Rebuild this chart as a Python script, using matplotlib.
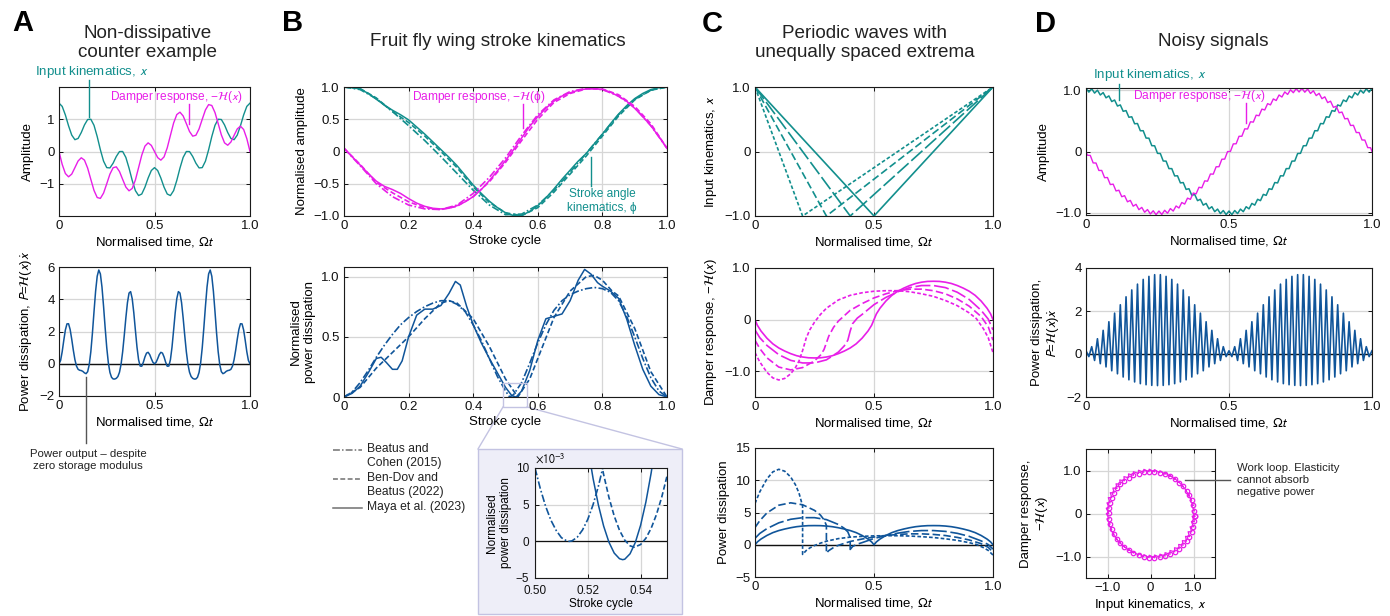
import numpy as np
import matplotlib
matplotlib.use("Agg")
import matplotlib.pyplot as plt
from matplotlib.lines import Line2D
from matplotlib.patches import Rectangle

plt.rcParams['font.family'] = ['Liberation Sans', 'DejaVu Sans']
plt.rcParams['mathtext.fontset'] = 'stixsans'

TEAL = '#128f8d'
MAG = '#e81ee8'
BLUE = '#10559a'
TXT = '#222222'
GRIDC = '#d6d6d6'

# ---------------- Panel A data ----------------
a_t = np.linspace(0, 1, 61)
a_input = [1.5, 1.399, 1.133, 0.797, 0.509, 0.366, 0.405, 0.589, 0.824, 0.992,
           1.0, 0.811, 0.464, 0.053, -0.300, -0.5, -0.509, -0.362, -0.155, -0.002,
           0.0, -0.183, -0.515, -0.898, -1.214, -1.366, -1.318, -1.106, -0.824, -0.590,
           -0.5,
           -0.590, -0.824, -1.106, -1.318, -1.366, -1.214, -0.898, -0.515, -0.183, 0.0,
           -0.002, -0.155, -0.362, -0.509, -0.5, -0.300, 0.053, 0.464, 0.811, 1.0,
           0.992, 0.824, 0.589, 0.405, 0.366, 0.509, 0.797, 1.133, 1.399, 1.5]
a_damper = [0, -0.399, -0.683, -0.785, -0.701, -0.5, -0.294, -0.194, -0.268, -0.515,
            -0.866, -1.208, -1.427, -1.454, -1.289, -1.0, -0.701, -0.503, -0.476, -0.620,
            -0.866, -1.103, -1.219, -1.145, -0.882, -0.5, -0.113, 0.167, 0.268, 0.190,
            0,
            -0.190, -0.268, -0.167, 0.113, 0.5, 0.882, 1.145, 1.219, 1.103, 0.866,
            0.620, 0.476, 0.503, 0.701, 1.0, 1.289, 1.454, 1.427, 1.208, 0.866,
            0.515, 0.268, 0.194, 0.294, 0.5, 0.701, 0.785, 0.683, 0.399, 0]
a_pt = np.linspace(0, 1, 121)
a_power = [0, 0.203, 0.745, 1.449, 2.093, 2.473, 2.481, 2.124, 1.521, 0.841,
           0.25, -0.149, -0.346, -0.404, -0.423, -0.475, -0.565, -0.615, -0.492, -0.060,
           0.750, 1.901, 3.235, 4.500, 5.428, 5.814, 5.570, 4.757, 3.556, 2.223,
           1.0, 0.061, -0.539, -0.840, -0.943, -0.948, -0.905, -0.791, -0.527, -0.027,
           0.750, 1.755, 2.838, 3.787, 4.383, 4.474, 4.033, 3.160, 2.074, 1.030,
           0.25, -0.142, -0.153, 0.097, 0.425, 0.661, 0.709, 0.565, 0.314, 0.090,
           0,
           0.090, 0.314, 0.565, 0.709, 0.661, 0.425, 0.097, -0.153, -0.142, 0.25,
           1.030, 2.074, 3.160, 4.033, 4.474, 4.383, 3.787, 2.838, 1.755, 0.750,
           -0.027, -0.527, -0.791, -0.905, -0.948, -0.943, -0.840, -0.539, 0.061, 1.0,
           2.223, 3.556, 4.757, 5.570, 5.814, 5.428, 4.500, 3.235, 1.901, 0.750,
           -0.060, -0.492, -0.615, -0.565, -0.475, -0.423, -0.404, -0.346, -0.149, 0.25,
           0.841, 1.521, 2.124, 2.481, 2.473, 2.093, 1.449, 0.745, 0.203, 0]

# ---------------- Panel B data ----------------
b_t41 = np.linspace(0, 1, 41)
b_t21 = np.linspace(0, 1, 21)
b_stroke_maya = [1.0, 0.993, 0.97, 0.90, 0.81, 0.72, 0.64, 0.57, 0.49, 0.38,
                 0.27, 0.15, 0.03, -0.09, -0.22, -0.37, -0.52, -0.65, -0.77, -0.87,
                 -0.95, -0.995, -0.99, -0.93, -0.84, -0.72, -0.58, -0.43, -0.29, -0.15,
                 -0.03, 0.12, 0.27, 0.43, 0.58, 0.71, 0.82, 0.90, 0.96, 0.99, 1.0]
b_stroke_bendov = [1.0, 0.975, 0.83, 0.62, 0.45, 0.24, 0.0, -0.25, -0.55, -0.79,
                   -0.95, -0.995, -0.87, -0.63, -0.35, -0.07, 0.24, 0.55, 0.80, 0.95, 1.0]
b_stroke_beatus = [1.0, 0.96, 0.82, 0.62, 0.40, 0.17, -0.08, -0.34, -0.60, -0.83,
                   -0.98, -0.97, -0.83, -0.60, -0.32, -0.03, 0.27, 0.57, 0.81, 0.95, 1.0]
b_damp_maya = [0.05, -0.08, -0.21, -0.34, -0.46, -0.54, -0.59, -0.65, -0.73, -0.80,
               -0.85, -0.88, -0.89, -0.88, -0.84, -0.78, -0.70, -0.59, -0.45, -0.30,
               -0.14, 0.03, 0.21, 0.39, 0.54, 0.67, 0.78, 0.86, 0.91, 0.95,
               0.97, 0.975, 0.96, 0.92, 0.855, 0.78, 0.67, 0.54, 0.40, 0.23, 0.05]
b_damp_bendov = [0.05, -0.2, -0.48, -0.64, -0.78, -0.87, -0.9, -0.85, -0.7, -0.47,
                 -0.17, 0.17, 0.5, 0.76, 0.9, 0.97, 0.97, 0.88, 0.7, 0.43, 0.05]
b_damp_beatus = [0.05, -0.22, -0.5, -0.7, -0.83, -0.89, -0.9, -0.83, -0.65, -0.4,
                 -0.1, 0.25, 0.57, 0.8, 0.93, 0.98, 0.96, 0.86, 0.68, 0.4, 0.05]

bp_maya_t = [0, 0.025, 0.05, 0.075, 0.1, 0.115, 0.13, 0.15, 0.165, 0.18,
             0.2, 0.225, 0.25, 0.275, 0.3, 0.325, 0.345, 0.36, 0.38, 0.4,
             0.425, 0.45, 0.475, 0.5, 0.52, 0.533, 0.55, 0.575, 0.6, 0.625,
             0.65, 0.675, 0.7, 0.725, 0.745, 0.765, 0.785, 0.8, 0.825, 0.85,
             0.875, 0.9, 0.925, 0.95, 0.975, 1.0]
bp_maya = [0, 0.03, 0.09, 0.2, 0.32, 0.33, 0.29, 0.23, 0.23, 0.3,
           0.5, 0.68, 0.73, 0.73, 0.76, 0.86, 0.96, 0.93, 0.75, 0.6,
           0.45, 0.32, 0.2, 0.08, 0.01, 0.0, 0.05, 0.22, 0.47, 0.65,
           0.67, 0.69, 0.8, 0.97, 1.06, 1.02, 0.95, 0.92, 0.88, 0.82,
           0.65, 0.43, 0.23, 0.09, 0.02, 0]
bp_beatus_t = [0, 0.025, 0.05, 0.075, 0.1, 0.125, 0.15, 0.175, 0.2, 0.225,
               0.25, 0.275, 0.3, 0.325, 0.35, 0.375, 0.4, 0.425, 0.45, 0.475,
               0.5, 0.513, 0.525, 0.55, 0.575, 0.6, 0.625, 0.65, 0.675, 0.7,
               0.725, 0.75, 0.775, 0.8, 0.825, 0.85, 0.875, 0.9, 0.925, 0.95,
               0.975, 1.0]
bp_beatus = [0, 0.04, 0.12, 0.22, 0.33, 0.43, 0.52, 0.6, 0.66, 0.71,
             0.75, 0.78, 0.8, 0.8, 0.77, 0.71, 0.6, 0.47, 0.32, 0.17,
             0.05, 0.0, 0.02, 0.12, 0.28, 0.45, 0.6, 0.72, 0.8, 0.85,
             0.88, 0.9, 0.91, 0.9, 0.87, 0.8, 0.67, 0.5, 0.32, 0.16,
             0.05, 0]
bp_bendov_t = [0, 0.05, 0.1, 0.15, 0.2, 0.25, 0.3, 0.325, 0.35, 0.4,
               0.45, 0.5, 0.538, 0.575, 0.6, 0.65, 0.7, 0.75, 0.775, 0.8,
               0.83, 0.85, 0.9, 0.95, 1.0]
bp_bendov = [0, 0.08, 0.24, 0.37, 0.5, 0.65, 0.78, 0.8, 0.78, 0.65,
             0.42, 0.15, 0.0, 0.15, 0.32, 0.66, 0.88, 1.0, 1.01, 0.97,
             0.88, 0.84, 0.57, 0.21, 0]

# inset values in units of 1e-3
ins_beatus_t = [0.500, 0.502, 0.504, 0.506, 0.508, 0.510, 0.512, 0.513, 0.514, 0.516,
                0.518, 0.520, 0.522, 0.524, 0.526, 0.528]
ins_beatus_e3 = [10.0, 7.2, 4.8, 2.9, 1.5, 0.5, 0.06, 0.0, 0.06, 0.56,
                 1.55, 3.0, 5.0, 7.5, 10.5, 13.9]
ins_bendov_t = [0.524, 0.526, 0.528, 0.530, 0.532, 0.534, 0.536, 0.5376, 0.540, 0.542,
                0.544, 0.546, 0.548, 0.550]
ins_bendov_e3 = [12.8, 9.1, 6.0, 3.46, 1.51, 0.16, -0.61, -0.8, -0.44, 0.42,
                 1.78, 3.65, 6.02, 8.9]
ins_maya_t = [0.520, 0.522, 0.524, 0.526, 0.528, 0.530, 0.532, 0.5332, 0.534, 0.536,
              0.538, 0.540, 0.542, 0.544, 0.546]
ins_maya_e3 = [12.9, 8.57, 4.97, 2.08, -0.11, -1.6, -2.37, -2.5, -2.44, -1.7,
               -0.16, 2.19, 5.36, 9.33, 14.1]

# ---------------- Panel C data ----------------
c_tri_t = [[0, 0.2, 1], [0, 0.3, 1], [0, 0.4, 1], [0, 0.5, 1]]
c_tri_x = [[1, -1, 1], [1, -1, 1], [1, -1, 1], [1, -1, 1]]

f02_t = [0, 0.02, 0.05, 0.075, 0.1, 0.125, 0.15, 0.17, 0.185, 0.2, 0.215, 0.23, 0.25,
         0.275, 0.3, 0.35, 0.4, 0.45, 0.5, 0.55, 0.6, 0.65, 0.7, 0.75, 0.8, 0.85, 0.9,
         0.93, 0.96, 0.98, 1.0]
f02 = [-0.64, -0.82, -1.02, -1.13, -1.17, -1.14, -1.05, -0.93, -0.80, -0.60, -0.36, -0.20,
       -0.05, 0.10, 0.22, 0.38, 0.47, 0.52, 0.55, 0.56, 0.56, 0.54, 0.50, 0.45, 0.37, 0.27,
       0.13, 0.02, -0.18, -0.35, -0.64]
f03_t = [0, 0.02, 0.05, 0.1, 0.15, 0.2, 0.25, 0.275, 0.29, 0.3, 0.31, 0.33, 0.35, 0.4,
         0.45, 0.5, 0.55, 0.6, 0.65, 0.7, 0.75, 0.8, 0.85, 0.9, 0.95, 0.98, 1.0]
f03 = [-0.40, -0.56, -0.74, -0.92, -0.975, -0.93, -0.80, -0.69, -0.58, -0.45, -0.32,
       -0.15, -0.03, 0.18, 0.31, 0.42, 0.50, 0.56, 0.59, 0.59, 0.56, 0.50, 0.40, 0.26,
       0.06, -0.14, -0.40]
f04_t = [0, 0.02, 0.05, 0.1, 0.15, 0.2, 0.25, 0.3, 0.35, 0.375, 0.39, 0.4, 0.41, 0.43,
         0.45, 0.5, 0.55, 0.6, 0.65, 0.7, 0.75, 0.8, 0.85, 0.9, 0.95, 0.98, 1.0]
f04 = [-0.20, -0.35, -0.50, -0.68, -0.79, -0.84, -0.84, -0.78, -0.63, -0.51, -0.40,
       -0.22, -0.08, 0.03, 0.10, 0.29, 0.43, 0.54, 0.62, 0.66, 0.66, 0.62, 0.53, 0.39,
       0.18, 0.01, -0.20]
f05_t = [0, 0.01, 0.025, 0.05, 0.075, 0.1, 0.125, 0.15, 0.175, 0.2, 0.225, 0.25,
         0.275, 0.3, 0.325, 0.35, 0.375, 0.4, 0.425, 0.45, 0.475, 0.49, 0.5,
         0.51, 0.525, 0.55, 0.575, 0.6, 0.625, 0.65, 0.675, 0.7, 0.725, 0.75,
         0.775, 0.8, 0.825, 0.85, 0.875, 0.9, 0.925, 0.95, 0.975, 0.99, 1.0]
f05 = [0, -0.11, -0.22, -0.36, -0.47, -0.55, -0.61, -0.66, -0.70, -0.725, -0.74, -0.743,
       -0.74, -0.725, -0.70, -0.66, -0.61, -0.55, -0.47, -0.36, -0.22, -0.11, 0,
       0.11, 0.22, 0.36, 0.47, 0.55, 0.61, 0.66, 0.70, 0.725, 0.74, 0.743,
       0.74, 0.725, 0.70, 0.66, 0.61, 0.55, 0.47, 0.36, 0.22, 0.11, 0]

p02_t = [0, 0.02, 0.05, 0.075, 0.1, 0.125, 0.15, 0.17, 0.185, 0.2, 0.2, 0.215, 0.23,
         0.25, 0.275, 0.3, 0.35, 0.4, 0.45, 0.5, 0.55, 0.6, 0.65, 0.7, 0.75, 0.8, 0.85,
         0.9, 0.93, 0.96, 0.98, 1.0]
p02 = [6.4, 8.2, 10.2, 11.3, 11.7, 11.4, 10.5, 9.3, 8.0, 6.0, -1.5, -0.9, -0.5,
       -0.12, 0.25, 0.55, 0.95, 1.18, 1.3, 1.38, 1.4, 1.4, 1.35, 1.25, 1.12, 0.92, 0.68,
       0.32, 0.05, -0.45, -0.88, -1.6]
p03_t = [0, 0.02, 0.05, 0.1, 0.15, 0.2, 0.25, 0.275, 0.29, 0.3, 0.3, 0.31, 0.33, 0.35,
         0.4, 0.45, 0.5, 0.55, 0.6, 0.65, 0.7, 0.75, 0.8, 0.85, 0.9, 0.95, 0.98, 1.0]
p03 = [2.67, 3.73, 4.93, 6.13, 6.5, 6.2, 5.33, 4.6, 3.87, 3.0, -1.29, -0.91, -0.43,
       -0.09, 0.51, 0.89, 1.2, 1.43, 1.6, 1.69, 1.69, 1.6, 1.43, 1.14, 0.74, 0.17,
       -0.4, -1.14]
p04_t = [0, 0.02, 0.05, 0.1, 0.15, 0.2, 0.25, 0.3, 0.35, 0.375, 0.39, 0.4, 0.4, 0.41,
         0.43, 0.45, 0.5, 0.55, 0.6, 0.65, 0.7, 0.75, 0.8, 0.85, 0.9, 0.95, 0.98, 1.0]
p04 = [1.0, 1.75, 2.5, 3.4, 3.95, 4.2, 4.2, 3.9, 3.15, 2.55, 2.0, 1.1, -0.73, -0.27,
       0.1, 0.33, 0.97, 1.43, 1.8, 2.07, 2.2, 2.2, 2.07, 1.77, 1.3, 0.6, 0.03, -0.67]
p05 = [0, 0.44, 0.88, 1.44, 1.88, 2.2, 2.44, 2.64, 2.8, 2.9, 2.96, 2.97, 2.96, 2.9,
       2.8, 2.64, 2.44, 2.2, 1.88, 1.44, 0.88, 0.44, 0, 0.44, 0.88, 1.44, 1.88, 2.2,
       2.44, 2.64, 2.8, 2.9, 2.96, 2.97, 2.96, 2.9, 2.8, 2.64, 2.44, 2.2, 1.88, 1.44,
       0.88, 0.44, 0]

# ---------------- Panel D data ----------------
d_t = np.linspace(0, 1, 101)
d_input = [1.030, 0.968, 1.022, 0.952, 0.999, 0.921, 0.960, 0.875, 0.906, 0.814,
           0.839, 0.741, 0.759, 0.655, 0.667, 0.558, 0.566, 0.452, 0.456, 0.338,
           0.339, 0.219, 0.217, 0.095, 0.093, -0.030, -0.033, -0.155, -0.157, -0.279,
           -0.279, -0.398, -0.396, -0.512, -0.506, -0.618, -0.607, -0.715, -0.699, -0.801,
           -0.779, -0.874, -0.846, -0.935, -0.900, -0.981, -0.939, -1.012, -0.962, -1.028,
           -0.970,
           -1.028, -0.962, -1.012, -0.939, -0.981, -0.900, -0.935, -0.846, -0.874, -0.779,
           -0.801, -0.699, -0.715, -0.607, -0.618, -0.506, -0.512, -0.396, -0.398, -0.279,
           -0.279, -0.157, -0.155, -0.033, -0.030, 0.093, 0.095, 0.217, 0.219, 0.339,
           0.338, 0.456, 0.452, 0.566, 0.558, 0.667, 0.655, 0.759, 0.741, 0.839,
           0.814, 0.906, 0.875, 0.960, 0.921, 0.999, 0.952, 1.022, 0.968, 1.030]
d_mt = np.r_[0.0, np.arange(100) / 100 + 0.005, 1.0]
d_damper = [0,
            -0.061, -0.064, -0.186, -0.188, -0.309, -0.309, -0.427, -0.424, -0.539, -0.532,
            -0.643, -0.631, -0.737, -0.720, -0.820, -0.797, -0.891, -0.861, -0.948, -0.911,
            -0.990, -0.946, -1.018, -0.966, -1.030, -0.970, -1.026, -0.958, -1.006, -0.930,
            -0.971, -0.888, -0.921, -0.831, -0.857, -0.760, -0.780, -0.677, -0.691, -0.583,
            -0.592, -0.479, -0.484, -0.367, -0.369, -0.249, -0.248, -0.126, -0.124, -0.001,
            0.001, 0.124, 0.126, 0.248, 0.249, 0.369, 0.367, 0.484, 0.479, 0.592,
            0.583, 0.691, 0.677, 0.780, 0.760, 0.857, 0.831, 0.921, 0.888, 0.971,
            0.930, 1.006, 0.958, 1.026, 0.970, 1.030, 0.966, 1.018, 0.946, 0.990,
            0.911, 0.948, 0.861, 0.891, 0.797, 0.820, 0.720, 0.737, 0.631, 0.643,
            0.532, 0.539, 0.424, 0.427, 0.309, 0.309, 0.188, 0.186, 0.064, 0.061,
            0]
d_power = [0.15, -0.12, 0.34, -0.30, 0.71, -0.45, 1.10, -0.60, 1.50, -0.78,
           1.90, -0.92, 2.29, -1.07, 2.66, -1.20, 2.98, -1.30, 3.25, -1.38,
           3.47, -1.43, 3.61, -1.46, 3.69, -1.47, 3.69, -1.46, 3.61, -1.43,
           3.47, -1.38, 3.25, -1.30, 2.98, -1.20, 2.66, -1.07, 2.29, -0.92,
           1.90, -0.78, 1.50, -0.60, 1.10, -0.45, 0.71, -0.30, 0.34, -0.12,
           0.15, -0.12, 0.34, -0.30, 0.71, -0.45, 1.10, -0.60, 1.50, -0.78,
           1.90, -0.92, 2.29, -1.07, 2.66, -1.20, 2.98, -1.30, 3.25, -1.38,
           3.47, -1.43, 3.61, -1.46, 3.69, -1.47, 3.69, -1.46, 3.61, -1.43,
           3.47, -1.38, 3.25, -1.30, 2.98, -1.20, 2.66, -1.07, 2.29, -0.92,
           1.90, -0.78, 1.50, -0.60, 1.10, -0.45, 0.71, -0.30, 0.34, -0.12,
           0.15]

# ---------------- figure helpers ----------------
W, H = 1390, 616
fig = plt.figure(figsize=(13.9, 6.16), dpi=100)


def rect(l, t, r, b):
    return [l / W, 1 - b / H, (r - l) / W, (b - t) / H]


def fline(x0, y0, x1, y1, color, lw=1.0, z=3):
    fig.add_artist(Line2D([x0 / W, x1 / W], [1 - y0 / H, 1 - y1 / H], color=color,
                          lw=lw, transform=fig.transFigure, zorder=z))


def ftext(x, y, s, **kw):
    fig.text(x / W, 1 - y / H, s, **kw)


def style(ax, xlim, ylim, xt, xtl, yt, ytl, fs=9.5, xpad=3, ypad=3):
    ax.set_xlim(xlim)
    ax.set_ylim(ylim)
    ax.set_xticks(xt, xtl)
    ax.set_yticks(yt, ytl)
    ax.grid(True, color=GRIDC, lw=0.9)
    ax.set_axisbelow(True)
    ax.tick_params(direction='in', length=3, width=0.7, top=True, right=True,
                   labelsize=fs, colors='#111111')
    ax.tick_params(axis='x', pad=xpad)
    ax.tick_params(axis='y', pad=ypad)
    for s in ax.spines.values():
        s.set_linewidth(0.8)
        s.set_color('#1a1a1a')


LFS = 9.5
AFS = 9.6     # teal annotations
MFS = 8.6     # magenta annotations
TFS = 13.6
TIME = 'Normalised time, $\\Omega t$'
M = '\u2212'
DASHDOT = (0, (4.5, 1.4, 1.0, 1.4))
DASH = (0, (3.2, 1.6))
DAMP_X = 'Damper response, \u2212$\\mathcal{H}$($x$)'
DAMP_PHI = 'Damper response, \u2212$\\mathcal{H}$(\u03d5)'

# ================= Panel A =================
axA1 = fig.add_axes(rect(59, 87, 250, 216))
axA1.plot(a_t, a_input, color=TEAL, lw=1.0)
axA1.plot(a_t, a_damper, color=MAG, lw=1.0)
style(axA1, (0, 1), (-2, 2), [0, 0.5, 1], ['0', '0.5', '1.0'], [-1, 0, 1], [M + '1', '0', '1'])
axA1.set_xlabel(TIME, fontsize=LFS, labelpad=2)
axA1.set_ylabel('Amplitude', fontsize=LFS)

axA2 = fig.add_axes(rect(59, 267, 250, 396))
axA2.axhline(0, color='#111111', lw=1.0)
axA2.plot(a_pt, a_power, color=BLUE, lw=1.1)
style(axA2, (0, 1), (-2, 6), [0, 0.5, 1], ['0', '0.5', '1.0'],
      [-2, 0, 2, 4, 6], [M + '2', '0', '2', '4', '6'])
axA2.set_xlabel(TIME, fontsize=LFS, labelpad=2)
axA2.set_ylabel('Power dissipation, $P$=$\\mathcal{H}$($x$)$\\dot{x}$', fontsize=LFS)

# ================= Panel B =================
axB1 = fig.add_axes(rect(344, 87, 667, 216))
axB1.plot(b_t21, b_stroke_beatus, color=TEAL, lw=1.2, ls=DASHDOT)
axB1.plot(b_t21, b_stroke_bendov, color=TEAL, lw=1.2, ls=DASH)
axB1.plot(b_t41, b_stroke_maya, color=TEAL, lw=1.1)
axB1.plot(b_t21, b_damp_beatus, color=MAG, lw=1.2, ls=DASHDOT)
axB1.plot(b_t21, b_damp_bendov, color=MAG, lw=1.2, ls=DASH)
axB1.plot(b_t41, b_damp_maya, color=MAG, lw=1.1)
style(axB1, (0, 1), (-1, 1), [0, 0.2, 0.4, 0.6, 0.8, 1.0],
      ['0', '0.2', '0.4', '0.6', '0.8', '1.0'],
      [-1, -0.5, 0, 0.5, 1], [M + '1.0', M + '0.5', '0', '0.5', '1.0'])
axB1.set_xlabel('Stroke cycle', fontsize=LFS, labelpad=2)
axB1.set_ylabel('Normalised amplitude', fontsize=LFS)

axB2 = fig.add_axes(rect(344, 267, 667, 397))
axB2.plot(bp_beatus_t, bp_beatus, color=BLUE, lw=1.2, ls=DASHDOT)
axB2.plot(bp_bendov_t, bp_bendov, color=BLUE, lw=1.2, ls=DASH)
axB2.plot(bp_maya_t, bp_maya, color=BLUE, lw=1.1)
style(axB2, (0, 1), (0, 1.08), [0, 0.2, 0.4, 0.6, 0.8, 1.0],
      ['0', '0.2', '0.4', '0.6', '0.8', '1.0'], [0, 0.5, 1.0], ['0', '0.5', '1.0'])
axB2.set_xlabel('Stroke cycle', fontsize=LFS, labelpad=2)
axB2.set_ylabel('Normalised\npower dissipation', fontsize=LFS)
axB2.add_patch(Rectangle((0.491, -0.083), 0.075, 0.197, fill=False, ec='#c3c3e2',
                         lw=1.0, clip_on=False, zorder=5))

# inset box and connectors
fig.add_artist(Rectangle((478 / W, 1 - 614 / H), 204 / W, 165 / H, transform=fig.transFigure,
                         facecolor='#eeeef8', edgecolor='#c3c3e2', lw=1.0, zorder=-1))
fline(503, 407, 478, 449, '#c3c3e2', 1.0, z=-1)
fline(527, 407, 682, 449, '#c3c3e2', 1.0, z=-1)

axIn = fig.add_axes(rect(535, 468, 667, 578))
axIn.axhline(0, color='#111111', lw=0.9)
axIn.plot(ins_beatus_t, np.array(ins_beatus_e3) * 1e-3, color=BLUE, lw=1.2, ls=DASHDOT)
axIn.plot(ins_bendov_t, np.array(ins_bendov_e3) * 1e-3, color=BLUE, lw=1.2, ls=DASH)
axIn.plot(ins_maya_t, np.array(ins_maya_e3) * 1e-3, color=BLUE, lw=1.1)
style(axIn, (0.5, 0.55), (-5e-3, 10e-3), [0.5, 0.52, 0.54], ['0.50', '0.52', '0.54'],
      [-5e-3, 0, 5e-3, 10e-3], [M + '5', '0', '5', '10'], fs=8.5, xpad=5, ypad=4)
axIn.set_xlabel('Stroke cycle', fontsize=8.5, labelpad=1)
axIn.set_ylabel('Normalised\npower dissipation', fontsize=8.5, labelpad=3)
axIn.text(0.0, 1.02, '$\\times10^{-3}$', transform=axIn.transAxes, fontsize=8.5,
          ha='left', va='bottom')

# legend (manual)
for (yy, lines, ls) in [(450, 'Beatus and\nCohen (2015)', DASHDOT),
                        (479, 'Ben-Dov and\nBeatus (2022)', DASH),
                        (508, 'Maya et al. (2023)', '-')]:
    fig.add_artist(Line2D([333 / W, 362 / W], [1 - yy / H, 1 - yy / H], color='#707070',
                          lw=1.1, ls=ls, transform=fig.transFigure))
    ftext(367, yy - 7, lines, fontsize=8.7, color=TXT, ha='left', va='top', linespacing=1.25)

# ================= Panel C =================
c_styles = [(0, (2.2, 1.3)), (0, (4.5, 2.0)), (0, (9, 2.2)), '-']
axC1 = fig.add_axes(rect(755, 87, 993, 216))
for tt, xx, ls in zip(c_tri_t, c_tri_x, c_styles):
    axC1.plot(tt, xx, color=TEAL, lw=1.2, ls=ls)
style(axC1, (0, 1), (-1, 1), [0, 0.5, 1], ['0', '0.5', '1.0'], [-1, 0, 1],
      [M + '1.0', '0', '1.0'])
axC1.set_xlabel(TIME, fontsize=LFS, labelpad=2)
axC1.set_ylabel('Input kinematics, $x$', fontsize=LFS)

axC2 = fig.add_axes(rect(755, 268, 993, 397))
for tt, ff, ls in zip([f02_t, f03_t, f04_t, f05_t], [f02, f03, f04, f05], c_styles):
    axC2.plot(tt, ff, color=MAG, lw=1.2, ls=ls)
style(axC2, (0, 1), (-1.5, 1.0), [0, 0.5, 1], ['0', '0.5', '1.0'], [-1, 0, 1],
      [M + '1.0', '0', '1.0'])
axC2.set_xlabel(TIME, fontsize=LFS, labelpad=2)
axC2.set_ylabel(DAMP_X, fontsize=LFS)

axC3 = fig.add_axes(rect(755, 448, 993, 577))
axC3.axhline(0, color='#111111', lw=1.0)
for tt, pp, ls in zip([p02_t, p03_t, p04_t, f05_t], [p02, p03, p04, p05], c_styles):
    axC3.plot(tt, pp, color=BLUE, lw=1.2, ls=ls)
style(axC3, (0, 1), (-5, 15), [0, 0.5, 1], ['0', '0.5', '1.0'], [-5, 0, 5, 10, 15],
      [M + '5', '0', '5', '10', '15'])
axC3.set_xlabel(TIME, fontsize=LFS, labelpad=2)
axC3.set_ylabel('Power dissipation', fontsize=LFS)

# ================= Panel D =================
axD1 = fig.add_axes(rect(1086, 88, 1372, 215))
axD1.plot(d_t, d_input, color=TEAL, lw=1.1)
axD1.plot(d_mt, d_damper, color=MAG, lw=1.0)
style(axD1, (0, 1), (-1.035, 1.035), [0, 0.5, 1], ['0', '0.5', '1.0'], [-1, 0, 1],
      [M + '1.0', '0', '1.0'])
axD1.set_xlabel(TIME, fontsize=LFS, labelpad=2)
axD1.set_ylabel('Amplitude', fontsize=LFS)

axD2 = fig.add_axes(rect(1086, 268, 1372, 397))
axD2.axhline(0, color='#111111', lw=1.0)
axD2.plot(d_t, d_power, color=BLUE, lw=1.2)
style(axD2, (0, 1), (-2, 4), [0, 0.5, 1], ['0', '0.5', '1.0'], [-2, 0, 2, 4],
      [M + '2', '0', '2', '4'])
axD2.set_xlabel(TIME, fontsize=LFS, labelpad=2)
axD2.set_ylabel('Power dissipation,\n$P$=$\\mathcal{H}$($x$)$\\dot{x}$', fontsize=LFS)

axD3 = fig.add_axes(rect(1086, 449, 1215, 578))
loop_x = list(d_input[:100]) + [d_input[0]]
loop_y = list(d_damper[1:101]) + [d_damper[1]]
axD3.plot(loop_x, loop_y, color=MAG, lw=0.9, marker='o', ms=3.2, mfc='none', mew=0.9,
          markevery=2)
style(axD3, (-1.5, 1.5), (-1.5, 1.5), [-1, 0, 1], [M + '1.0', '0', '1.0'], [-1, 0, 1],
      [M + '1.0', '0', '1.0'])
axD3.set_xlabel('Input kinematics, $x$', fontsize=LFS, labelpad=2)
axD3.set_ylabel('Damper response,\n\u2212$\\mathcal{H}$($x$)', fontsize=LFS)

# ================= texts =================
for x, y, s in [(12, 23, 'A'), (282, 23, 'B'), (702, 24, 'C'), (1035, 24, 'D')]:
    ftext(x, y, s, fontsize=21, fontweight='bold', ha='left', va='center', color='#000000')

ftext(148, 43, 'Non-dissipative\ncounter example', fontsize=TFS, ha='center', va='center',
      color=TXT, linespacing=1.1)
ftext(498, 42, 'Fruit fly wing stroke kinematics', fontsize=TFS, ha='center', va='center',
      color=TXT)
ftext(865, 43, 'Periodic waves with\nunequally spaced extrema', fontsize=TFS, ha='center',
      va='center', color=TXT, linespacing=1.1)
ftext(1213, 42, 'Noisy signals', fontsize=TFS, ha='center', va='center', color=TXT)

# Panel A annotations
ftext(35, 72, 'Input kinematics, $x$', fontsize=AFS, color=TEAL, ha='left', va='center')
fline(89, 80, 89, 117, TEAL)
ftext(110, 97, DAMP_X, fontsize=MFS, color=MAG, ha='left', va='center')
fline(189, 104, 189, 124, MAG)
fline(86, 377, 86, 443, '#555555')
ftext(88, 460, 'Power output \u2013 despite\nzero storage modulus', fontsize=8.2, color=TXT,
      ha='center', va='center', linespacing=1.3)

# Panel B annotations
ftext(412, 97, DAMP_PHI, fontsize=MFS, color=MAG, ha='left', va='center')
fline(523, 104, 523, 128, MAG)
ftext(602, 201, 'Stroke angle\nkinematics, \u03d5', fontsize=8.6, color=TEAL, ha='center',
      va='center', linespacing=1.15)
fline(591, 157, 591, 186, TEAL)

# Panel D annotations
ftext(1093, 75, 'Input kinematics, $x$', fontsize=AFS, color=TEAL, ha='left', va='center')
fline(1119, 84, 1119, 100, TEAL)
ftext(1133, 96, DAMP_X, fontsize=MFS, color=MAG, ha='left', va='center')
fline(1246, 103, 1246, 123, MAG)
fline(1185, 480, 1230, 480, '#555555')
ftext(1237, 480, 'Work loop. Elasticity\ncannot absorb\nnegative power', fontsize=8.2,
      color=TXT, ha='left', va='center', linespacing=1.3)

fig.savefig('out.png', dpi=100)
